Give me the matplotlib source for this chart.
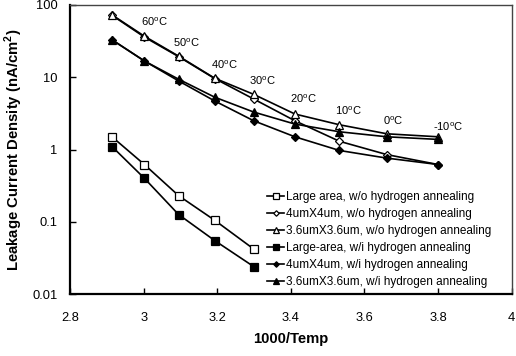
import numpy as np
import matplotlib
matplotlib.use("Agg")
import matplotlib.pyplot as plt
from matplotlib.ticker import FixedLocator, FuncFormatter, NullLocator

plt.rcParams['font.family'] = ['Liberation Sans', 'DejaVu Sans']
plt.rcParams['mathtext.fontset'] = 'custom'
plt.rcParams['mathtext.rm'] = 'Liberation Sans'
plt.rcParams['mathtext.bf'] = 'Liberation Sans:bold'

# 1000/T (K) for 70 .. -10 C
x_all = [2.914, 3.002, 3.095, 3.193, 3.299, 3.411, 3.532, 3.661, 3.800]
x_large = x_all[:5]

large_wo = [1.5, 0.62, 0.23, 0.105, 0.042]
large_wi = [1.1, 0.40, 0.126, 0.055, 0.024]
d4_wo = [72, 36, 19.3, 9.6, 5.0, 2.5, 1.3, 0.85, 0.62]
t36_wo = [73, 37, 19.6, 9.7, 5.8, 3.1, 2.2, 1.65, 1.5]
d4_wi = [33, 16.8, 8.9, 4.7, 2.5, 1.5, 0.97, 0.76, 0.62]
t36_wi = [33, 16.8, 9.4, 5.3, 3.3, 2.25, 1.76, 1.5, 1.38]

temp_labels = ['60', '50', '40', '30', '20', '10', '0', '-10']
temp_pos = [(3.03, 58), (3.116, 30), (3.22, 15), (3.323, 8.8),
            (3.435, 5.0), (3.555, 3.4), (3.677, 2.5), (3.827, 2.06)]

series = [
    (x_large, large_wo, 's', 'white', 'Large area, w/o hydrogen annealing'),
    (x_all, d4_wo, 'D', 'white', '4umX4um, w/o hydrogen annealing'),
    (x_all, t36_wo, '^', 'white', '3.6umX3.6um, w/o hydrogen annealing'),
    (x_large, large_wi, 's', 'black', 'Large-area, w/i hydrogen annealing'),
    (x_all, d4_wi, 'D', 'black', '4umX4um, w/i hydrogen annealing'),
    (x_all, t36_wi, '^', 'black', '3.6umX3.6um, w/i hydrogen annealing'),
]

fig = plt.figure(figsize=(5.16, 3.56), dpi=100)
ax = fig.add_axes([0.1357, 0.174, 0.856, 0.812])

for xs, ys, m, fc, lab in series:
    ms = 4.0 if m == 'D' else 5.5
    ax.plot(xs, ys, color='black', lw=1.2, marker=m, markersize=ms,
            markerfacecolor=fc, markeredgecolor='black', markeredgewidth=0.9,
            label=lab)

for t, (tx, ty) in zip(temp_labels, temp_pos):
    ax.text(tx, ty, t + r'$^{\mathrm{o}}$C', fontsize=8, ha='center', va='center')

ax.set_yscale('log')
ax.set_xlim(2.8, 4.0)
ax.set_ylim(0.01, 100)
ax.xaxis.set_major_locator(FixedLocator(np.arange(2.8, 4.01, 0.2)))
ax.xaxis.set_major_formatter(FuncFormatter(lambda v, p: '%g' % round(v, 1)))
ax.yaxis.set_major_locator(FixedLocator([0.01, 0.1, 1, 10, 100]))
ax.yaxis.set_major_formatter(FuncFormatter(lambda v, p: '%g' % v))
ax.yaxis.set_minor_locator(NullLocator())
ax.tick_params(direction='in', length=4, width=1, labelsize=9.3)
ax.tick_params(axis='x', pad=13)
ax.tick_params(axis='y', pad=9)

for side in ['left', 'bottom']:
    ax.spines[side].set_linewidth(1.6)
for side in ['top', 'right']:
    ax.spines[side].set_linewidth(1.0)
    ax.spines[side].set_color('#444444')

ax.set_xlabel('1000/Temp', fontsize=10.7, fontweight='bold', labelpad=6)
ax.set_ylabel(r'Leakage Current Density (nA/cm$^{\mathbf{2}}$)', fontsize=10.7,
              fontweight='bold', labelpad=5)

ax.legend(loc='lower right', bbox_to_anchor=(0.965, 0.005), frameon=False,
          fontsize=8.5, handlelength=1.4, handletextpad=0.2,
          labelspacing=0.42, borderaxespad=0.0, markerscale=0.7)

fig.savefig('out.png', dpi=100)
